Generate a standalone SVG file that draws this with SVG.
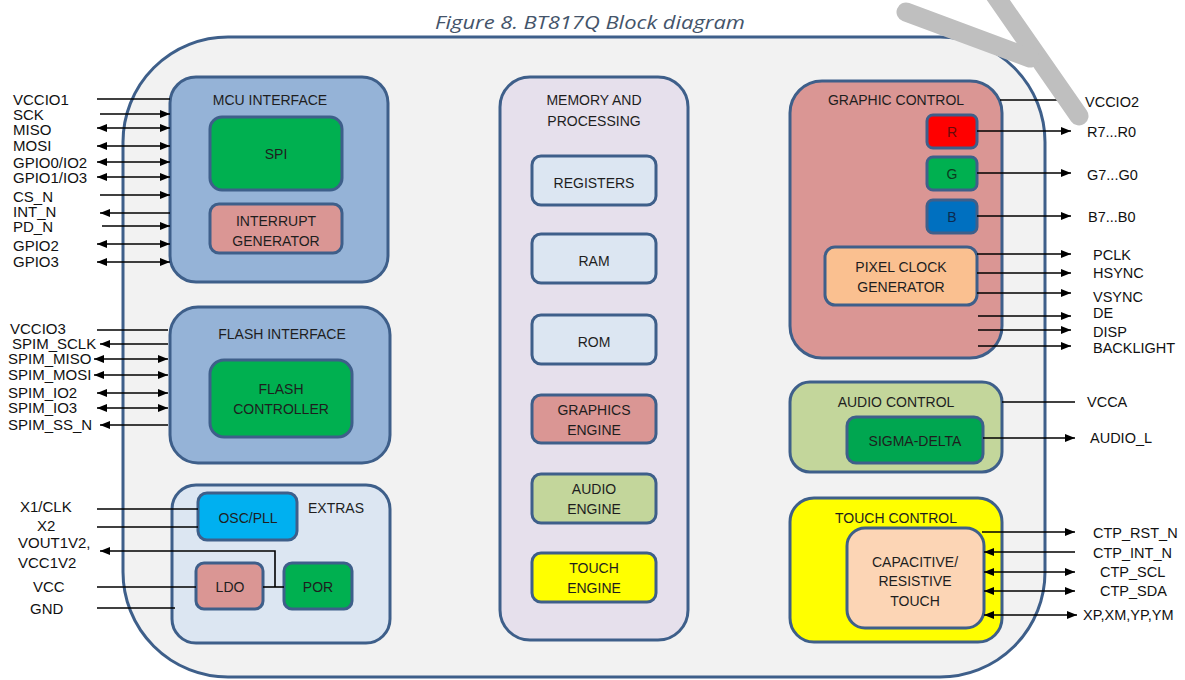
<svg xmlns="http://www.w3.org/2000/svg" width="1185" height="680" viewBox="0 0 1185 680">
<defs>
<marker id="ah" viewBox="0 0 10 8" refX="10" refY="4" markerWidth="10" markerHeight="8" markerUnits="userSpaceOnUse" orient="auto-start-reverse"><path d="M0,0 L10,4 L0,8 z" fill="#000"/></marker>
<style>
.box{stroke:#3e5f8a;stroke-width:3}
.t{font-family:"Liberation Sans",Arial,sans-serif;font-size:14px;fill:#1e1e1e;text-anchor:middle}
.p{font-family:"Liberation Sans",Arial,sans-serif;font-size:14.5px;fill:#111}
.pl{font-size:15px}
.w{stroke:#000;stroke-width:1.6;fill:none}
.a{marker-end:url(#ah)}
.b{marker-start:url(#ah);marker-end:url(#ah)}
</style>
</defs>
<rect width="1185" height="680" fill="#fff"/>
<text x="435" y="29" font-family="Open Sans,Liberation Sans,sans-serif" font-style="italic" font-size="18" fill="#44546a" textLength="310" lengthAdjust="spacingAndGlyphs">Figure 8. BT817Q Block diagram</text>

<g id="chip"><rect class="box" x="123" y="37" width="922" height="640" rx="105" fill="#f2f2f2"/></g>

<g id="mcu-interface">
<rect class="box" x="170" y="77" width="218" height="205" rx="26" fill="#95b3d7"/>
<text class="t" x="270" y="105">MCU INTERFACE</text>
<g id="spi"><rect class="box" x="210" y="117" width="132" height="73" rx="12" fill="#00b050"/><text class="t" x="276" y="159">SPI</text></g>
<g id="interrupt-generator"><rect class="box" x="210" y="204" width="132" height="49" rx="9" fill="#da9694"/><text class="t" x="276" y="226">INTERRUPT</text><text class="t" x="276" y="246">GENERATOR</text></g>
</g>

<g id="flash-interface">
<rect class="box" x="170" y="307" width="220" height="156" rx="28" fill="#95b3d7"/>
<text class="t" x="282" y="339">FLASH INTERFACE</text>
<g id="flash-controller"><rect class="box" x="210" y="360" width="142" height="77" rx="14" fill="#00b050"/><text class="t" x="281" y="394">FLASH</text><text class="t" x="281" y="414">CONTROLLER</text></g>
</g>

<g id="extras">
<rect class="box" x="172" y="485" width="218" height="158" rx="24" fill="#dce6f2"/>
<text class="t" x="336" y="513">EXTRAS</text>
<g id="osc-pll"><rect class="box" x="198" y="493" width="99" height="47" rx="9" fill="#00b0f0"/><text class="t" x="248" y="523">OSC/PLL</text></g>
<g id="ldo"><rect class="box" x="196" y="563" width="67" height="46" rx="8" fill="#da9694"/><text class="t" x="230" y="592">LDO</text></g>
<g id="por"><rect class="box" x="284" y="563" width="68" height="46" rx="8" fill="#00b050"/><text class="t" x="318" y="592">POR</text></g>
</g>

<g id="memory-processing">
<rect class="box" x="500" y="77" width="188" height="563" rx="30" fill="#e6e0ec"/>
<text class="t" x="594" y="105">MEMORY AND</text>
<text class="t" x="594" y="126">PROCESSING</text>
<g id="registers"><rect class="box" x="532" y="156" width="124" height="49" rx="9" fill="#dce6f2"/><text class="t" x="594" y="188">REGISTERS</text></g>
<g id="ram"><rect class="box" x="532" y="234" width="124" height="49" rx="9" fill="#dce6f2"/><text class="t" x="594" y="266">RAM</text></g>
<g id="rom"><rect class="box" x="532" y="315" width="124" height="49" rx="9" fill="#dce6f2"/><text class="t" x="594" y="347">ROM</text></g>
<g id="graphics-engine"><rect class="box" x="532" y="395" width="124" height="48" rx="9" fill="#da9694"/><text class="t" x="594" y="415">GRAPHICS</text><text class="t" x="594" y="435">ENGINE</text></g>
<g id="audio-engine"><rect class="box" x="532" y="474" width="124" height="49" rx="9" fill="#c3d69b"/><text class="t" x="594" y="494">AUDIO</text><text class="t" x="594" y="514">ENGINE</text></g>
<g id="touch-engine"><rect class="box" x="532" y="553" width="124" height="49" rx="9" fill="#ffff00"/><text class="t" x="594" y="573">TOUCH</text><text class="t" x="594" y="593">ENGINE</text></g>
</g>

<g id="graphic-control">
<rect class="box" x="790" y="81" width="212" height="277" rx="32" fill="#da9694"/>
<text class="t" x="896" y="105">GRAPHIC CONTROL</text>
<g id="r"><rect class="box" x="927" y="115" width="50" height="33" rx="6" fill="#ff0000"/><text class="t" x="952" y="137" style="fill:#6a0a0a">R</text></g>
<g id="g"><rect class="box" x="927" y="157" width="50" height="33" rx="6" fill="#00b050"/><text class="t" x="952" y="179" style="fill:#0c3a1e">G</text></g>
<g id="b"><rect class="box" x="927" y="200" width="50" height="33" rx="6" fill="#0070c0"/><text class="t" x="952" y="222" style="fill:#0b2a4f">B</text></g>
<g id="pixel-clock-generator"><rect class="box" x="825" y="247" width="152" height="58" rx="10" fill="#fac090"/><text class="t" x="901" y="272">PIXEL CLOCK</text><text class="t" x="901" y="292">GENERATOR</text></g>
</g>

<g id="audio-control">
<rect class="box" x="790" y="382" width="212" height="90" rx="20" fill="#c3d69b"/>
<text class="t" x="896" y="407">AUDIO CONTROL</text>
<g id="sigma-delta"><rect class="box" x="847" y="417" width="136" height="46" rx="9" fill="#00a650"/><text class="t" x="915" y="446">SIGMA-DELTA</text></g>
</g>

<g id="touch-control">
<rect class="box" x="790" y="498" width="212" height="144" rx="24" fill="#ffff00"/>
<text class="t" x="896" y="523">TOUCH CONTROL</text>
<g id="capacitive-resistive-touch"><rect class="box" x="847" y="528" width="137" height="100" rx="18" fill="#fcd5b5"/><text class="t" x="915" y="567">CAPACITIVE/</text><text class="t" x="915" y="586">RESISTIVE</text><text class="t" x="915" y="606">TOUCH</text></g>
</g>

<g id="connectors">
<line class="w" x1="97" y1="99" x2="170" y2="99"/>
<line class="w a" x1="100" y1="114" x2="170" y2="114"/>
<line class="w b" x1="97" y1="128" x2="170" y2="128"/>
<line class="w b" x1="97" y1="146" x2="170" y2="146"/>
<line class="w b" x1="97" y1="162" x2="170" y2="162"/>
<line class="w b" x1="97" y1="177" x2="170" y2="177"/>
<line class="w a" x1="100" y1="195" x2="170" y2="195"/>
<line class="w a" x1="170" y1="213" x2="100" y2="213"/>
<line class="w a" x1="102" y1="226" x2="170" y2="226"/>
<line class="w b" x1="97" y1="244" x2="170" y2="244"/>
<line class="w b" x1="97" y1="262" x2="170" y2="262"/>

<line class="w" x1="97" y1="330" x2="168" y2="330"/>
<line class="w a" x1="168" y1="344" x2="100" y2="344"/>
<line class="w b" x1="94" y1="359" x2="168" y2="359"/>
<line class="w b" x1="94" y1="375" x2="168" y2="375"/>
<line class="w b" x1="97" y1="393" x2="168" y2="393"/>
<line class="w b" x1="97" y1="408" x2="168" y2="408"/>
<line class="w a" x1="168" y1="425" x2="100" y2="425"/>

<line class="w" x1="97" y1="509" x2="198" y2="509"/>
<line class="w" x1="97" y1="527" x2="198" y2="527"/>
<polyline class="w a" points="275,587 275,551 100,551"/>
<line class="w" x1="263" y1="587" x2="284" y2="587"/>
<line class="w" x1="97" y1="587" x2="196" y2="587"/>
<line class="w" x1="97" y1="608" x2="175" y2="608"/>

<line class="w" x1="1000" y1="100" x2="1068" y2="100"/>
<line class="w a" x1="977" y1="131" x2="1071" y2="131"/>
<line class="w a" x1="977" y1="173" x2="1071" y2="173"/>
<line class="w a" x1="977" y1="216" x2="1071" y2="216"/>
<line class="w a" x1="977" y1="254" x2="1071" y2="254"/>
<line class="w a" x1="977" y1="273" x2="1071" y2="273"/>
<line class="w a" x1="977" y1="293" x2="1071" y2="293"/>
<line class="w a" x1="978" y1="316" x2="1071" y2="316"/>
<line class="w a" x1="978" y1="330" x2="1071" y2="330"/>
<line class="w a" x1="978" y1="346" x2="1071" y2="346"/>

<line class="w" x1="1002" y1="402" x2="1075" y2="402"/>
<line class="w a" x1="983" y1="438" x2="1075" y2="438"/>

<line class="w a" x1="982" y1="532" x2="1075" y2="532"/>
<line class="w a" x1="1075" y1="552" x2="984" y2="552"/>
<line class="w b" x1="984" y1="572" x2="1075" y2="572"/>
<line class="w b" x1="984" y1="591" x2="1075" y2="591"/>
<line class="w b" x1="984" y1="615" x2="1077" y2="615"/>

<g id="pin-labels">
<text class="p pl" x="13" y="105">VCCIO1</text>
<text class="p pl" x="13" y="120">SCK</text>
<text class="p pl" x="13" y="135">MISO</text>
<text class="p pl" x="13" y="151">MOSI</text>
<text class="p pl" x="13" y="168">GPIO0/IO2</text>
<text class="p pl" x="13" y="183">GPIO1/IO3</text>
<text class="p pl" x="13" y="202">CS_N</text>
<text class="p pl" x="13" y="217">INT_N</text>
<text class="p pl" x="13" y="232">PD_N</text>
<text class="p pl" x="13" y="251">GPIO2</text>
<text class="p pl" x="13" y="267">GPIO3</text>

<text class="p pl" x="10" y="334">VCCIO3</text>
<text class="p pl" x="12" y="349">SPIM_SCLK</text>
<text class="p pl" x="8" y="364">SPIM_MISO</text>
<text class="p pl" x="8" y="380">SPIM_MOSI</text>
<text class="p pl" x="8" y="398">SPIM_IO2</text>
<text class="p pl" x="8" y="413">SPIM_IO3</text>
<text class="p pl" x="8" y="430">SPIM_SS_N</text>

<text class="p pl" x="20" y="512">X1/CLK</text>
<text class="p pl" x="37" y="531">X2</text>
<text class="p pl" x="18" y="548">VOUT1V2,</text>
<text class="p pl" x="18" y="568">VCC1V2</text>
<text class="p pl" x="33" y="592">VCC</text>
<text class="p pl" x="30" y="614">GND</text>

<text class="p" x="1085" y="107">VCCIO2</text>
<text class="p" x="1087" y="137">R7...R0</text>
<text class="p" x="1087" y="180">G7...G0</text>
<text class="p" x="1088" y="222">B7...B0</text>
<text class="p" x="1093" y="260">PCLK</text>
<text class="p" x="1093" y="278">HSYNC</text>
<text class="p" x="1093" y="302">VSYNC</text>
<text class="p" x="1093" y="318">DE</text>
<text class="p" x="1093" y="337">DISP</text>
<text class="p" x="1093" y="353">BACKLIGHT</text>

<text class="p" x="1087" y="407">VCCA</text>
<text class="p" x="1090" y="443">AUDIO_L</text>

<text class="p" x="1093" y="538">CTP_RST_N</text>
<text class="p" x="1093" y="558">CTP_INT_N</text>
<text class="p" x="1100" y="577">CTP_SCL</text>
<text class="p" x="1100" y="596">CTP_SDA</text>
<text class="p" x="1083" y="620">XP,XM,YP,YM</text>
</g>
</g>

<g id="watermark" stroke="#bfbfbf" stroke-width="19" stroke-linecap="round" fill="none">
<line x1="990" y1="-12" x2="1079" y2="116"/>
<line x1="906" y1="12" x2="1030" y2="58"/>
</g>
</svg>
